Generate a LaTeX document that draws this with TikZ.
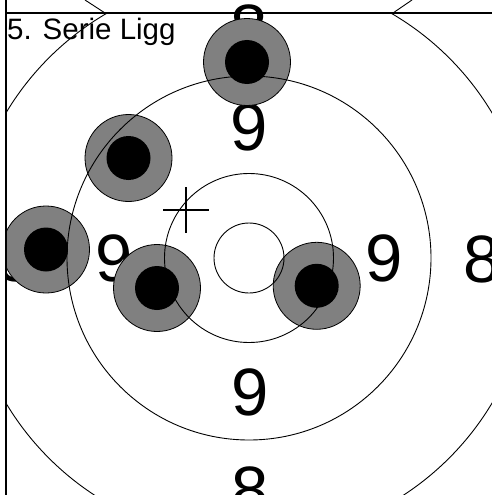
\documentclass[tikz,border=0pt]{standalone}
\usepackage{fontspec}
\setmainfont{Liberation Sans}
\definecolor{shotgray}{RGB}{128,128,128}
\begin{document}
\begin{tikzpicture}[x=1pt,y=-1pt,
  ring/.style={line width=0.9pt},
  shotouter/.style={circle,draw=black,line width=0.8pt,fill=shotgray,minimum size=87pt,inner sep=0pt},
  shotinner/.style={circle,fill=black,minimum size=44pt,inner sep=0pt},
  num/.style={inner sep=0pt,font=\fontsize{67}{67}\selectfont},
  frameline/.style={line width=1.3pt},
  crossline/.style={line width=1.6pt}]
\useasboundingbox (0,0) rectangle (492,495);
\coordinate (c) at (249,258);
% ring numbers
\begin{scope}
\clip (6,0) rectangle (492,495);
\node[num] (n9t) at (249,127.5) {9};
\node[num] (n9b) at (250,392.5) {9};
\node[num] (n9r) at (384,258) {9};
\node[num] (n9l) at (114,258) {9};
\node[num] (n8t) at (249,28) {8};
\node[num] (n8b) at (250,490) {8};
\node[num] (n8r) at (482,259) {8};
\node[num] (n8l) at (16,258) {8};
% shots
\node[shotouter] (s1) at (247,62) {};
\node[shotinner] (s1i) at (s1) {};
\node[shotouter] (s2) at (128.5,158) {};
\node[shotinner] (s2i) at (s2) {};
\node[shotouter] (s3) at (46,249.5) {};
\node[shotinner] (s3i) at (s3) {};
\node[shotouter] (s4) at (157,288) {};
\node[shotinner] (s4i) at (s4) {};
\node[shotouter] (s5) at (316.7,285.8) {};
\node[shotinner] (s5i) at (s5) {};
\end{scope}
% rings
\begin{scope}
\clip (6,13) rectangle (492,495);
\draw[ring] (c) circle (35);
\draw[ring] (c) circle (84.5);
\draw[ring] (c) circle (182);
\draw[ring] (c) circle (283);
\end{scope}
% strip arcs
\coordinate (al1) at (105,13);
\coordinate (al2) at (85,0);
\coordinate (ar1) at (393,13);
\coordinate (ar2) at (412,0);
\draw[ring] (al1) -- (al2);
\draw[ring] (ar1) -- (ar2);
% crosshair
\coordinate (x) at (186,210);
\draw[crossline] ([xshift=-23pt]x) -- ([xshift=23pt]x);
\draw[crossline] ([yshift=23pt]x) -- ([yshift=-23pt]x);
% frame
\coordinate (fo) at (6,13);
\coordinate (ft) at (6,0);
\coordinate (fb) at (6,495);
\coordinate (fr) at (492,13);
\draw[frameline] (ft) -- (fb);
\draw[frameline] (fo) -- (fr);
% title
\node[anchor=base west,inner sep=0pt,font=\fontsize{29.5}{30}\selectfont] (title) at (7,40) {5. Serie Ligg};
\end{tikzpicture}
\end{document}
